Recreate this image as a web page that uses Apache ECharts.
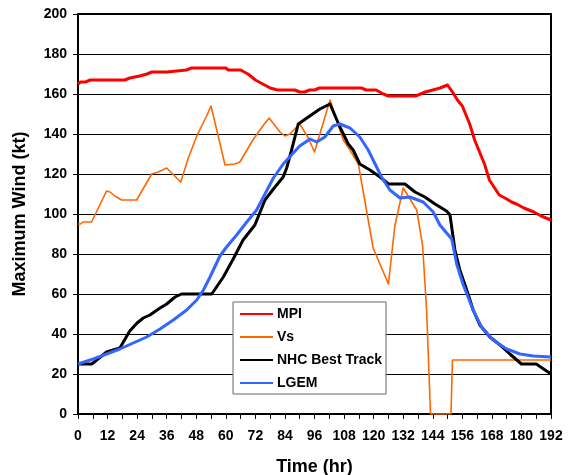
<!DOCTYPE html>
<html>
<head>
<meta charset="utf-8">
<script src="https://cdn.jsdelivr.net/npm/echarts@6/dist/echarts.min.js"></script>
<style>
  html, body { margin: 0; padding: 0; background: #fff; }
  #chart { width: 568px; height: 475px; }
</style>
</head>
<body>
<div id="chart"></div>
<script>
// Forecast hour (x) and maximum wind in knots (y) for each series
const mpiHours = [0, 1, 3, 5, 19, 21, 25, 28, 30, 36, 44, 46, 60, 61, 66, 69, 72, 75, 78, 81, 88, 90, 92, 94, 96, 98, 115, 117, 121, 124, 126, 137, 139, 141, 144, 147, 150, 152, 154, 156, 159, 161, 163, 165, 167, 171, 174, 176, 178, 181, 185, 188, 192];
const mpiWind  = [165, 166, 166, 167, 167, 168, 169, 170, 171, 171, 172, 173, 173, 172, 172, 170, 167, 165, 163, 162, 162, 161, 161, 162, 162, 163, 163, 162, 162, 160, 159, 159, 160, 161, 162, 163, 164.5, 161, 157, 154, 145, 137, 131, 125, 117, 109.5, 107.5, 106, 105, 103, 101, 99, 97];

const vsHours = [0, 1, 2, 5.5, 11.6, 13, 15, 17.7, 23.8, 29.9, 32.6, 36, 41.7, 44.8, 48.2, 52.2, 54, 59.7, 63.7, 65.7, 71, 75, 77.6, 82, 84, 86, 90, 93.5, 96, 102.3, 107.7, 110.4, 113.8, 119.8, 126, 128.6, 132, 137.5, 139.9, 141.5, 143.1, 151.4, 152, 192];
const vsWind  = [95, 95, 96, 96, 111.5, 111, 109, 107, 107, 120, 121, 123, 116, 128, 139, 149, 154, 124.5, 125, 126, 137, 144, 148, 141, 139, 140, 145, 138, 131, 157, 137, 132, 125, 83, 65, 94, 113, 102, 84, 52, 0, 0, 27, 27];

const bestHours = [0, 5.6, 11.6, 17, 21, 24, 26.5, 29.2, 33.3, 36, 39.4, 42, 54.3, 59, 63, 67, 71.8, 75.9, 79.3, 83.3, 84.7, 86.7, 89.4, 93.5, 98.2, 102.3, 106.3, 109.7, 111.7, 114.4, 118.5, 122.6, 126, 132.7, 136.8, 140.8, 144.9, 149.6, 151, 153, 155, 157.8, 160.4, 163.1, 167.2, 171.3, 175.3, 180, 186, 192];
const bestWind  = [25, 25, 31, 33, 41.5, 45.5, 48, 49.5, 53, 55, 58.5, 60, 60, 68.5, 77.5, 87, 94.5, 107, 112.5, 118.5, 123, 132, 145, 148.5, 152.5, 155, 143.5, 135, 132, 125, 122, 118.5, 115, 115, 111, 108.5, 105, 101.5, 99.5, 82, 72, 62, 52, 44.5, 38.5, 34.5, 30, 25, 25, 20];

const lgemHours = [0, 6.2, 11.6, 17, 22.4, 27.9, 33.3, 38.7, 44.1, 48.2, 50.9, 53.6, 57.6, 60.3, 64.4, 68.5, 72.5, 75.9, 79.3, 83.3, 87.4, 90, 94.2, 96.9, 100.2, 103.6, 106.3, 110.4, 114.4, 117.8, 119.8, 123.2, 126.6, 130.7, 134.7, 140.1, 144.2, 146.9, 151.7, 153.7, 156.4, 160.4, 163.8, 168.5, 174, 179.4, 184.8, 192];
const lgemWind  = [25, 27.5, 30, 32.5, 35.5, 38.5, 42.5, 47, 52, 57, 62, 68.5, 79, 83.5, 89.5, 96, 102, 110, 118, 125, 130.5, 134, 137.5, 136, 138.5, 144, 145, 143, 138.5, 132, 127, 118.5, 112, 108, 108.5, 106, 101, 94.5, 87.5, 75, 64.5, 52, 43.5, 37, 32.5, 30, 29, 28.5];

const seriesNames = ['MPI', 'Vs', 'NHC Best Track', 'LGEM'];

const pairs = (xs, ys) => xs.map((x, i) => [x, ys[i]]);

const FONT = '"Liberation Sans", Arial, sans-serif';

const chart = echarts.init(document.getElementById('chart'), null, { renderer: 'canvas' });

function lineSeries(name, xs, ys, color, width) {
  return {
    name: name,
    type: 'line',
    data: pairs(xs, ys),
    symbol: 'none',
    smooth: false,
    animation: false,
    lineStyle: { color: color, width: width, join: 'round' },
    itemStyle: { color: color }
  };
}

chart.setOption({
  animation: false,
  backgroundColor: '#fff',
  grid: {
    left: 78, right: 17, top: 14, bottom: 61,
    outerBoundsMode: 'none',
    containLabel: false,
    show: true, borderColor: '#000', borderWidth: 2, backgroundColor: 'transparent'
  },
  xAxis: {
    type: 'value',
    min: 0, max: 192, interval: 6,
    name: 'Time (hr)',
    nameLocation: 'middle',
    nameGap: 44,
    nameTextStyle: { fontFamily: FONT, fontWeight: 'bold', fontSize: 18, color: '#000' },
    axisLine: { show: true, lineStyle: { color: '#000', width: 2 } },
    axisTick: { show: true, length: 5, lineStyle: { color: '#000', width: 1 } },
    axisLabel: {
      margin: 15,
      fontFamily: FONT, fontWeight: 'bold', fontSize: 14, color: '#000',
      formatter: v => (v % 12 === 0 ? String(v) : '')
    },
    splitLine: { show: false }
  },
  yAxis: {
    type: 'value',
    min: 0, max: 200, interval: 20,
    name: 'Maximum Wind (kt)',
    nameLocation: 'middle',
    nameGap: 49,
    nameTextStyle: { fontFamily: FONT, fontWeight: 'bold', fontSize: 18, color: '#000' },
    axisLine: { show: true, lineStyle: { color: '#000', width: 2 } },
    axisTick: { show: true, length: 5, lineStyle: { color: '#000', width: 1 } },
    axisLabel: { margin: 11, fontFamily: FONT, fontWeight: 'bold', fontSize: 14, color: '#000' },
    splitLine: { show: true, lineStyle: { color: '#000', width: 1 } }
  },
  legend: {
    data: seriesNames,
    orient: 'vertical',
    left: 233, top: 302,
    backgroundColor: '#fff',
    borderColor: '#666', borderWidth: 1,
    padding: [5, 4, 4, 6],
    itemGap: 9,
    itemWidth: 33, itemHeight: 14,
    itemStyle: { opacity: 0 },
    textStyle: { fontFamily: FONT, fontWeight: 'bold', fontSize: 14, color: '#000', padding: [0, 0, 0, -1] },
    selectedMode: false
  },
  series: [
    lineSeries(seriesNames[0], mpiHours, mpiWind, '#FF0000', 3),
    lineSeries(seriesNames[1], vsHours, vsWind, '#FF6600', 1.6),
    lineSeries(seriesNames[2], bestHours, bestWind, '#000000', 3),
    lineSeries(seriesNames[3], lgemHours, lgemWind, '#3366FF', 3)
  ]
});
</script>
</body>
</html>
